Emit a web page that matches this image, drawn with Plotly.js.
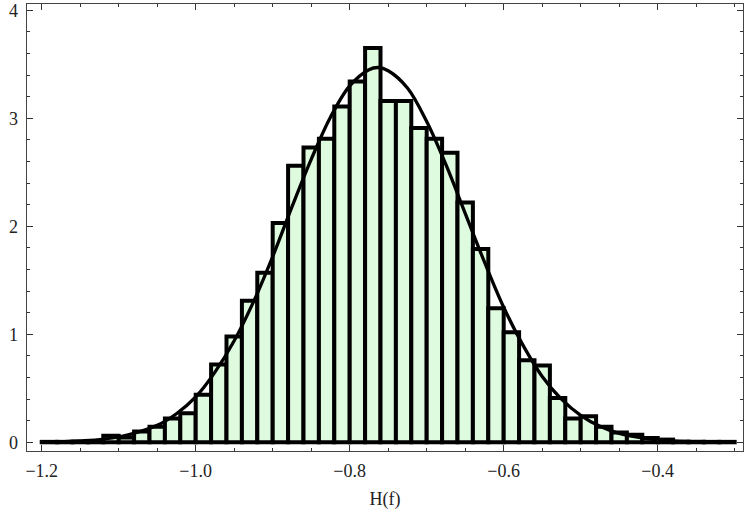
<!DOCTYPE html>
<html>
<head>
<meta charset="utf-8">
<script src="https://cdn.plot.ly/plotly-3.0.1.min.js"></script>
<style>html,body{margin:0;padding:0;background:#fff;}#chart{width:744px;height:516px;}</style>
</head>
<body>
<div id="chart"></div>
<script>
// Histogram bins (centers, width 0.02) and densities
const binCenters = [-1.19,-1.17,-1.15,-1.13,-1.11,-1.09,-1.07,-1.05,-1.03,-1.01,-0.99,-0.97,-0.95,-0.93,-0.91,-0.89,-0.87,-0.85,-0.83,-0.81,-0.79,-0.77,-0.75,-0.73,-0.71,-0.69,-0.67,-0.65,-0.63,-0.61,-0.59,-0.57,-0.55,-0.53,-0.51,-0.49,-0.47,-0.45,-0.43,-0.41,-0.39,-0.37,-0.35,-0.33,-0.31];
const density = [0.004,0.004,0.005,0.006,0.06,0.045,0.10,0.145,0.22,0.27,0.44,0.72,0.98,1.31,1.57,2.03,2.56,2.73,2.81,3.11,3.34,3.65,3.16,3.16,2.91,2.81,2.68,2.22,1.79,1.24,1.02,0.76,0.71,0.41,0.22,0.24,0.145,0.09,0.07,0.04,0.025,0.006,0.005,0.004,0.004];
const binWidth = 0.02;

// Fitted density curve
const curveX = [-1.20,-1.15,-1.10,-1.05,-1.025,-1.00,-0.975,-0.95,-0.925,-0.90,-0.875,-0.85,-0.825,-0.80,-0.775,-0.763,-0.75,-0.725,-0.70,-0.675,-0.65,-0.625,-0.60,-0.575,-0.55,-0.525,-0.50,-0.475,-0.45,-0.40,-0.35,-0.30];
const curveY = [0.003,0.012,0.049,0.157,0.264,0.42,0.65,0.94,1.30,1.72,2.18,2.62,3.01,3.30,3.45,3.47,3.44,3.28,2.97,2.57,2.12,1.67,1.25,0.90,0.61,0.40,0.25,0.148,0.083,0.023,0.005,0.001];

const xTitle = 'H(f)';

const serif = 'Liberation Serif, Times New Roman, Times, serif';
const tickFont = {family: serif, size: 18, color: '#222'};

const traces = [
  {
    type: 'bar', x: binCenters, y: density, width: binWidth,
    marker: {color: '#dffbdf', line: {color: '#000', width: 4}},
    hoverinfo: 'skip', showlegend: false
  },
  {
    type: 'scatter', mode: 'lines', x: curveX, y: curveY,
    line: {color: '#000', width: 3.3, shape: 'spline', smoothing: 1},
    hoverinfo: 'skip', showlegend: false
  }
];

const axisCommon = {
  showline: true, linecolor: '#444', linewidth: 1.3, mirror: 'allticks',
  ticks: 'inside', ticklen: 6, tickwidth: 1.2, tickcolor: '#333',
  showgrid: false, zeroline: false, tickfont: tickFont
};

const layout = {
  width: 744, height: 516,
  margin: {l: 27, r: 1, t: 4, b: 65},
  paper_bgcolor: '#fff', plot_bgcolor: '#fff',
  bargap: 0,
  xaxis: Object.assign({}, axisCommon, {
    range: [-1.2191, -0.2892], tickmode: 'linear', tick0: -1.2, dtick: 0.2,
    tickformat: '.1f', ticklabelstandoff: 3,
    minor: {ticks: 'inside', ticklen: 3, tickwidth: 1, tickcolor: '#333', dtick: 0.05, tick0: -1.2, showgrid: false},
    title: {text: xTitle, font: {family: serif, size: 18, color: '#222'}, standoff: 12}
  }),
  yaxis: Object.assign({}, axisCommon, {
    range: [-0.0806, 4.058], tickmode: 'linear', tick0: 0, dtick: 1,
    ticklabelstandoff: 4,
    minor: {ticks: 'inside', ticklen: 3, tickwidth: 1, tickcolor: '#333', dtick: 0.2, tick0: 0, showgrid: false}
  })
};

Plotly.newPlot('chart', traces, layout, {staticPlot: true, displayModeBar: false});
</script>
</body>
</html>
